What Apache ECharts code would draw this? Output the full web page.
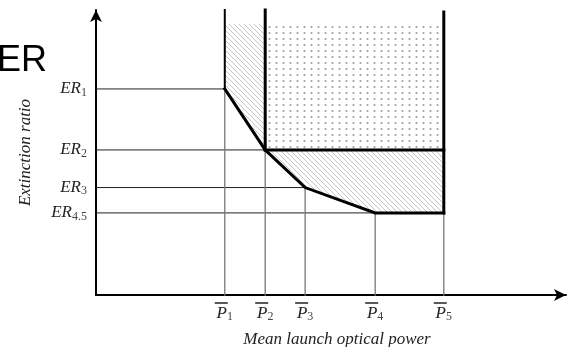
<!DOCTYPE html>
<html><head><meta charset="utf-8">
<script src="https://cdn.jsdelivr.net/npm/echarts@6/dist/echarts.min.js"></script>
<style>html,body{margin:0;padding:0;background:#fff}#c{width:572px;height:347px}</style>
</head><body><div id="c"></div>
<script>
// ---- data ----
const pSubs = ['1', '2', '3', '4', '5'];
const pValues = [2.74, 3.60, 4.45, 5.94, 7.40];
const erSubs = ['1', '2', '3', '4.5'];
const erValues = [7.23, 5.09, 3.77, 2.88];
const lineTops = [10.0, 10.0, 9.93];   // tops of the P1, P2, P5 walls
const shadeTop = 9.51;
const titleText = 'ER';
const xName = 'Mean launch optical power';
const yName = 'Extinction ratio';

// ---- patterns ----
function hatchPattern() {
  const c = document.createElement('canvas'); c.width = 5; c.height = 5;
  const g = c.getContext('2d');
  g.strokeStyle = '#c6c6c6'; g.lineWidth = 1;
  g.beginPath();
  g.moveTo(-1, -1); g.lineTo(6, 6);
  g.moveTo(-1, 4); g.lineTo(1, 6);
  g.moveTo(4, -1); g.lineTo(6, 1);
  g.stroke();
  return c;
}
function dotPattern() {
  const c = document.createElement('canvas'); c.width = 7; c.height = 6;
  const g = c.getContext('2d');
  g.fillStyle = '#a0a0a0';
  g.beginPath(); g.arc(3.5, 3, 1.1, 0, Math.PI * 2); g.fill();
  return c;
}
const hatch = { image: hatchPattern(), repeat: 'repeat' };
const dotsFill = { image: dotPattern(), repeat: 'repeat' };

const P = pValues, E = erValues;
const polys = [
  { fill: hatch, pts: [[P[0], shadeTop], [P[1], shadeTop], [P[1], E[1]], [P[0], E[0]]] },
  { fill: hatch, pts: [[P[1], E[1]], [P[4], E[1]], [P[4], E[3]], [P[3], E[3]], [P[2], E[2]]] },
  { fill: dotsFill, pts: [[P[1], shadeTop], [P[4], shadeTop], [P[4], E[1]], [P[1], E[1]]] }
];

function seg(data, color, width, z) {
  return { type: 'line', data: data, symbol: 'none', silent: true, animation: false,
    clip: false, z: z, lineStyle: { color: color, width: width, cap: 'square', join: 'miter' } };
}
const series = [];
series.push({
  type: 'custom', silent: true, animation: false, z: 1, clip: false,
  data: polys.map((p, i) => [i]),
  renderItem: function (params, api) {
    const poly = polys[params.dataIndex];
    return { type: 'polygon', shape: { points: poly.pts.map(p => api.coord(p)) },
      style: { fill: poly.fill, stroke: null } };
  }
});
// thin horizontal guides
const hEnds = [P[0], P[1], P[2], P[3]];
E.forEach((e, i) => series.push(seg([[0, e], [hEnds[i], e]], '#222', 1, 2)));
// thin vertical guides
const vStarts = [E[0], E[1], E[2], E[3], E[3]];
P.forEach((p, i) => series.push(seg([[p, vStarts[i]], [p, 0]], '#777', 1.3, 2)));
// thick boundary
series.push(seg([[P[0], lineTops[0]], [P[0], E[0]]], '#000', 2, 3));
series.push(seg([[P[0], E[0]], [P[1], E[1]], [P[2], E[2]], [P[3], E[3]], [P[4], E[3]]], '#000', 3, 3));
series.push(seg([[P[1], lineTops[1]], [P[1], E[1]]], '#000', 3, 3));
series.push(seg([[P[1], E[1]], [P[4], E[1]]], '#000', 3, 3));
series.push(seg([[P[4], lineTops[2]], [P[4], E[3]]], '#000', 3, 3));

function nearest(arr, v) {
  let b = 0; arr.forEach((a, i) => { if (Math.abs(a - v) < Math.abs(arr[b] - v)) b = i; }); return b;
}
const serif = 'Liberation Serif';

const option = {
  animation: false,
  backgroundColor: '#fff',
  grid: { left: 96, right: 6, top: 10, bottom: 52, containLabel: false, outerBoundsMode: 'none' },
  graphic: [{
    type: 'text', left: -3, top: 43,
    style: { text: titleText, font: '36px "Liberation Sans"', fill: '#000' }
  }],
  xAxis: {
    type: 'value', min: 0, max: 10,
    name: xName, nameLocation: 'middle', nameGap: 36,
    nameTextStyle: { fontFamily: serif, fontStyle: 'italic', fontSize: 17, color: '#222', padding: [0, 0, 0, 12] },
    axisLine: { show: true, onZero: false, lineStyle: { color: '#000', width: 2 }, symbol: ['none', 'arrow'], symbolSize: [9, 12] },
    axisTick: { show: false }, splitLine: { show: false },
    axisLabel: {
      customValues: pValues, margin: 7,
      formatter: function (v) { const i = nearest(pValues, v); return '{o| }{sp| }\n{p|P}{s|' + pSubs[i] + '}'; },
      rich: {
        o: { width: 13, height: 1.5, lineHeight: 2, fontSize: 1, backgroundColor: '#222' },
        sp: { width: 7, height: 1.5, lineHeight: 2, fontSize: 1 },
        p: { fontFamily: serif, fontStyle: 'italic', fontSize: 17, lineHeight: 19, color: '#222' },
        s: { fontFamily: serif, fontSize: 12, lineHeight: 10, verticalAlign: 'bottom', color: '#444' }
      }
    }
  },
  yAxis: {
    type: 'value', min: 0, max: 10,
    name: yName, nameLocation: 'middle', nameGap: 62, nameRotate: 90,
    nameTextStyle: { fontFamily: serif, fontStyle: 'italic', fontSize: 17, color: '#222' },
    axisLine: { show: true, onZero: false, lineStyle: { color: '#000', width: 2 }, symbol: ['none', 'arrow'], symbolSize: [9, 12] },
    axisTick: { show: false }, splitLine: { show: false },
    axisLabel: {
      customValues: erValues, margin: 9,
      formatter: function (v) { const i = nearest(erValues, v); return '{e|ER}{s|' + erSubs[i] + '}'; },
      rich: {
        e: { fontFamily: serif, fontStyle: 'italic', fontSize: 17, lineHeight: 19, color: '#222' },
        s: { fontFamily: serif, fontSize: 12, lineHeight: 10, verticalAlign: 'bottom', color: '#444' }
      }
    }
  },
  series: series
};
echarts.init(document.getElementById('c'), null, { renderer: 'canvas' }).setOption(option);
</script>
</body></html>
